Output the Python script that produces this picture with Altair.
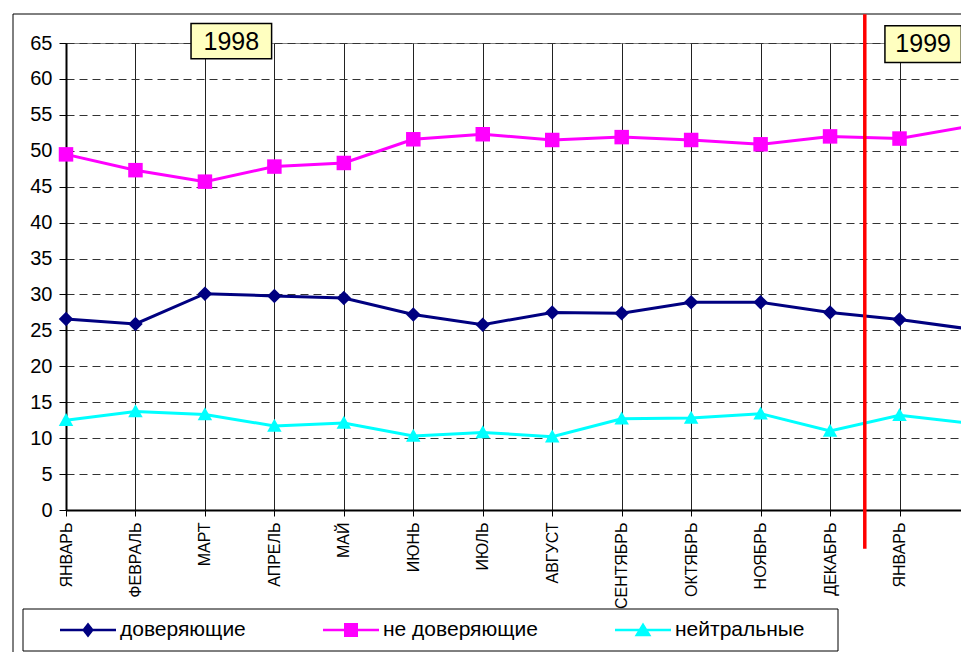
import altair as alt
import pandas as pd

# ---- data ----
months = ["ЯНВАРЬ", "ФЕВРАЛЬ", "МАРТ", "АПРЕЛЬ", "МАЙ", "ИЮНЬ", "ИЮЛЬ",
          "АВГУСТ", "СЕНТЯБРЬ", "ОКТЯБРЬ", "НОЯБРЬ", "ДЕКАБРЬ", "ЯНВАРЬ", "ФЕВРАЛЬ"]
series_names = ["доверяющие", "не доверяющие", "нейтральные"]
trusting = [26.6, 25.9, 30.1, 29.8, 29.5, 27.2, 25.8, 27.5, 27.4, 28.9, 28.9, 27.5, 26.5, 25.2]
distrusting = [49.5, 47.3, 45.7, 47.8, 48.3, 51.6, 52.3, 51.5, 51.9, 51.5, 50.9, 52.0, 51.7, 53.4]
neutral = [12.5, 13.7, 13.3, 11.7, 12.1, 10.3, 10.8, 10.2, 12.7, 12.8, 13.4, 11.0, 13.2, 12.1]
years = ["1998", "1999"]
y_ticks = list(range(0, 70, 5))

# ---- styling ----
colors = ["#000080", "#FF00FF", "#00FFFF"]
marker_paths = [
    "M0,-1L1,0L0,1L-1,0Z",
    "M-1,-1H1V1H-1Z",
    "M0,-1L1,0.8H-1Z",
]
legend_paths = [
    "M-1,-0.045H1V0.045H-1Z M0,-0.27L0.21,0L0,0.27L-0.21,0Z",
    "M-1,-0.045H1V0.045H-1Z M-0.25,-0.25H0.25V0.25H-0.25Z",
    "M-1,-0.045H1V0.045H-1Z M0,-0.27L0.3,0.22H-0.3Z",
]
FONT = "Liberation Sans"

rows = []
for name, vals in zip(series_names, [trusting, distrusting, neutral]):
    for i, v in enumerate(vals):
        rows.append({"idx": i, "value": v, "series": name})
df = pd.DataFrame(rows)

# annotation placement (year boxes, divider) in chart units
ann = pd.DataFrame({
    "label": years,
    "xc": [2.38, 12.34], "yc": [65.2, 64.85],
    "x0": [1.80, 11.79], "x1": [2.96, 12.89],
    "y0": [62.8, 62.3], "y1": [67.7, 67.4],
})
divider = pd.DataFrame({"x": [11.5], "y0": [-5.4], "y1": [69.0]})
leg_df = pd.DataFrame({"leg": series_names})
one = pd.DataFrame({"a": [0]})

# the reference's plot area runs past the right edge of the picture
PLOT_W = 895
STEP = 69.46
x_scale = alt.Scale(domain=[0, PLOT_W / STEP], nice=False, zero=False)
y_scale = alt.Scale(domain=[0, 65], nice=False)
labels_js = "[" + ",".join("'" + m + "'" for m in months) + "]"

x_axis = alt.Axis(values=list(range(14)), labelExpr=labels_js + "[datum.value]",
                  title=None, labelAngle=270, labelFontSize=16, labelFont=FONT,
                  labelColor="black", tickSize=6, tickColor="black", labelPadding=6,
                  domainColor="black", domainWidth=2, grid=True, gridColor="#222222",
                  gridWidth=1, labelOverlap=False, labelBound=False, labelFlush=False)
y_axis = alt.Axis(values=y_ticks, title=None, labelFontSize=20, labelFont=FONT,
                  labelColor="black", tickSize=7, tickColor="black", labelPadding=7,
                  domainColor="black", domainWidth=2, grid=True, gridColor="#333333",
                  gridDash=[8, 5], gridWidth=1, labelOverlap=False)

frame = alt.Chart(one).mark_rect(fill=None, stroke="black", strokeWidth=1).encode(
    x=alt.value(-53), x2=alt.value(1100), y=alt.value(-29), y2=alt.value(900))

lines = alt.Chart(df).mark_line(strokeWidth=3).encode(
    x=alt.X("idx:Q", scale=x_scale, axis=x_axis),
    y=alt.Y("value:Q", scale=y_scale, axis=y_axis),
    color=alt.Color("series:N", scale=alt.Scale(domain=series_names, range=colors), legend=None),
    detail="series:N",
)

points = alt.Chart(df).mark_point(filled=True, size=210, opacity=1).encode(
    x=alt.X("idx:Q", scale=x_scale, axis=x_axis),
    y=alt.Y("value:Q", scale=y_scale, axis=y_axis),
    color=alt.Color("series:N", scale=alt.Scale(domain=series_names, range=colors), legend=None),
    shape=alt.Shape("series:N", scale=alt.Scale(domain=series_names, range=marker_paths), legend=None),
)

rule = alt.Chart(divider).mark_rule(color="#FF0000", strokeWidth=3.5).encode(
    x=alt.X("x:Q", scale=x_scale, axis=x_axis),
    y=alt.Y("y0:Q", scale=y_scale, axis=y_axis),
    y2="y1:Q",
)

year_box = alt.Chart(ann).mark_rect(fill="#FFFFC0", stroke="black", strokeWidth=1.5).encode(
    x=alt.X("x0:Q", scale=x_scale, axis=x_axis), x2="x1:Q",
    y=alt.Y("y0:Q", scale=y_scale, axis=y_axis), y2="y1:Q",
)
year_text = alt.Chart(ann).mark_text(fontSize=25, font=FONT, color="black",
                                     align="center", baseline="middle").encode(
    x=alt.X("xc:Q", scale=x_scale, axis=x_axis),
    y=alt.Y("yc:Q", scale=y_scale, axis=y_axis),
    text="label:N",
)

legend_box = alt.Chart(one).mark_rect(fill=None, stroke="black", strokeWidth=1).encode(
    x=alt.value(-43), x2=alt.value(772), y=alt.value(566), y2=alt.value(608))

leg_props = dict(orient="none", legendX=-6, legendY=559, direction="horizontal",
                 title=None, labelFontSize=21, labelFont=FONT, labelColor="black",
                 symbolSize=3136, symbolStrokeWidth=0, labelOffset=4,
                 columnPadding=77, padding=0, labelLimit=400)
legend_layer = alt.Chart(leg_df).mark_point(filled=True, size=3136, opacity=1).encode(
    x=alt.value(-3000), y=alt.value(-3000),
    color=alt.Color("leg:N", scale=alt.Scale(domain=series_names, range=colors),
                    legend=alt.Legend(**leg_props)),
    shape=alt.Shape("leg:N", scale=alt.Scale(domain=series_names, range=legend_paths),
                    legend=alt.Legend(**leg_props)),
)

chart = alt.layer(
    frame, lines, points, rule, year_box, year_text, legend_box, legend_layer
).resolve_scale(
    color="independent", shape="independent"
).properties(
    width=PLOT_W, height=467,
    autosize=alt.AutoSizeParams(type="none"),
    padding={"left": 58, "top": 35, "right": 0, "bottom": 142},
).configure(font=FONT).configure_view(stroke="#808080", strokeWidth=1)

chart.save("out.html", embed_options={"renderer": "svg", "actions": False})
